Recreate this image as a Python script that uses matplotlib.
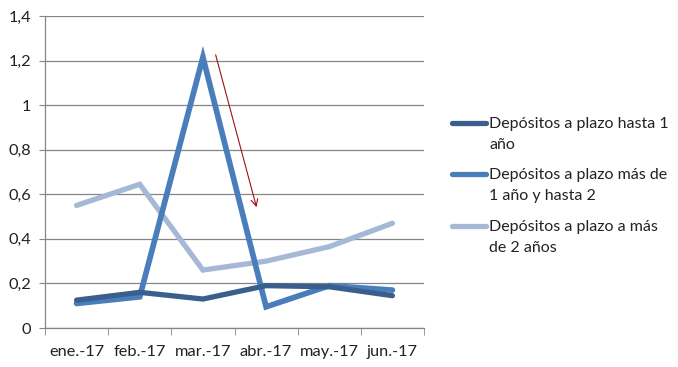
import matplotlib
matplotlib.use("Agg")
import matplotlib.pyplot as plt
from matplotlib.lines import Line2D

months = ["ene.-17", "feb.-17", "mar.-17", "abr.-17", "may.-17", "jun.-17"]
hasta_1 = [0.125, 0.16, 0.13, 0.19, 0.185, 0.145]
de_1_a_2 = [0.11, 0.14, 1.215, 0.095, 0.19, 0.17]
mas_de_2 = [0.55, 0.645, 0.26, 0.30, 0.365, 0.47]
series_names = [["Depósitos a plazo hasta 1", "año"],
                ["Depósitos a plazo más de", "1 año y hasta 2"],
                ["Depósitos a plazo a más", "de 2 años"]]
yticks = [0, 0.2, 0.4, 0.6, 0.8, 1.0, 1.2, 1.4]
ytick_labels = ["0", "0,2", "0,4", "0,6", "0,8", "1", "1,2", "1,4"]

colors = ["#3A5F8C", "#4A7EBB", "#A5B8D5"]
plt.rcParams['font.family'] = ['Lato', 'DejaVu Sans']

W, H = 678, 367
fig = plt.figure(figsize=(W/100, H/100), dpi=100)
ax = fig.add_axes([45/W, (H-328)/H, (424-45)/W, (328-16)/H])

x = list(range(len(months)))
lw = 3.8
ax.plot(x, mas_de_2, color=colors[2], lw=lw, solid_joinstyle='miter', solid_capstyle='round', zorder=3)
ax.plot(x, de_1_a_2, color=colors[1], lw=lw+0.3, solid_joinstyle='miter', solid_capstyle='round', zorder=4)
ax.plot(x, hasta_1, color=colors[0], lw=lw, solid_joinstyle='miter', solid_capstyle='round', zorder=5)

ax.set_xlim(-0.5, len(months) - 0.5)
ax.set_ylim(0, 1.4)
ax.set_yticks(yticks)
ax.set_yticklabels(ytick_labels, fontsize=11.8, color="#222222")
ax.set_xticks(x)
ax.set_xticklabels(months, fontsize=11.8, color="#222222")
ax.set_xticks([i - 0.5 for i in range(len(months) + 1)], minor=True)
ax.tick_params(axis='x', which='major', length=0, pad=12)
ax.tick_params(axis='x', which='minor', length=5, color="#868686", direction='out')
ax.tick_params(axis='y', length=4, color="#868686", pad=6)
ax.grid(axis='y', color="#868686", lw=0.9, zorder=0)
ax.set_axisbelow(True)
for s in ["top", "right"]:
    ax.spines[s].set_visible(False)
for s in ["left", "bottom"]:
    ax.spines[s].set_color("#868686")
    ax.spines[s].set_linewidth(0.9)

ax.annotate("", xy=(2.86, 0.53), xytext=(2.19, 1.238),
            arrowprops=dict(arrowstyle="->", color="#A01010", lw=0.8,
                            mutation_scale=12))

# legend
ly = [123, 174, 226]
for c, lines, y in zip(colors, series_names, ly):
    fig.add_artist(Line2D([452/W, 486/W], [(H-y)/H, (H-y)/H], color=c, lw=3.8,
                          solid_capstyle='round', transform=fig.transFigure))
    for k, line in enumerate(lines):
        fig.text(489/W, (H-(y + 5 + 21*k))/H, line, fontsize=11.5, va='baseline',
                 ha='left', color="#222222")

fig.savefig("out.png", dpi=100)
